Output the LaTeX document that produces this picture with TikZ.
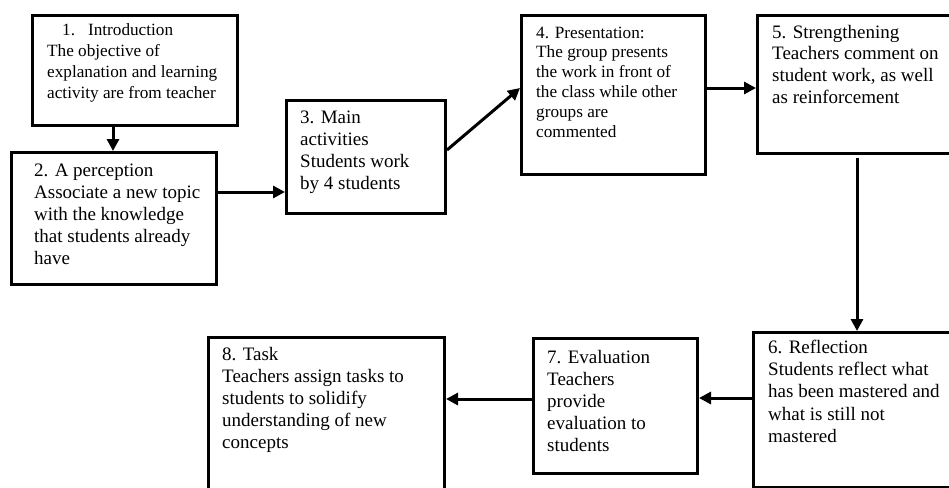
\documentclass[tikz,border=0pt]{standalone}
\usepackage{fontspec}
\setmainfont{Liberation Serif}
\usetikzlibrary{arrows.meta}
\begin{document}
\begin{tikzpicture}[x=1pt,y=-1pt,
  box/.style={draw=black, line width=3pt, rectangle, inner sep=0pt, anchor=north west},
  txt/.style={inner sep=0pt, anchor=base west, align=left},
  arr/.style={line width=3pt, -{Triangle[length=12pt,width=12pt]}}]
\useasboundingbox (0,0) rectangle (949,487);
\clip (0,0) rectangle (949,487);
\fill[white] (0,0) rectangle (949,487);
% boxes
\node[box, minimum width=205pt, minimum height=110pt] (b1) at (31,14) {};
\node[box, minimum width=205pt, minimum height=132pt] (b2) at (10,151) {};
\node[box, minimum width=159pt, minimum height=113pt] (b3) at (285,99) {};
\node[box, minimum width=184pt, minimum height=159pt] (b4) at (520,14) {};
\node[box, minimum width=215pt, minimum height=138pt] (b5) at (756,14) {};
\node[box, minimum width=215pt, minimum height=155pt] (b6) at (752,331) {};
\node[box, minimum width=164pt, minimum height=135pt] (b7) at (532,337) {};
\node[box, minimum width=236pt, minimum height=170pt] (b8) at (207,336) {};
% texts
\node[txt] (t1) at (47,36) {\parbox[t]{190pt}{\fontsize{17.2}{20.7}\selectfont\raggedright
  \hspace*{15pt}1.\hspace{13pt}Introduction\\The objective of\\explanation and learning\\activity are from teacher}};
\node[txt] (t2) at (34,176) {\parbox[t]{180pt}{\fontsize{19}{22}\selectfont\raggedright
  2. A perception\\Associate a new topic\\with the knowledge\\that students already\\have}};
\node[txt] (t3) at (300,123) {\parbox[t]{140pt}{\fontsize{19}{22.3}\selectfont\raggedright
  3. Main\\activities\\Students work\\by 4 students}};
\node[txt] (t4) at (536,38) {\parbox[t]{165pt}{\fontsize{17.2}{19.8}\selectfont\raggedright
  4. Presentation:\\The group presents\\the work in front of\\the class while other\\groups are\\commented}};
\node[txt] (t5) at (772,38) {\parbox[t]{180pt}{\fontsize{19}{21.7}\selectfont\raggedright
  5. Strengthening\\Teachers comment on\\student work, as well\\as reinforcement}};
\node[txt] (t6) at (768,353) {\parbox[t]{180pt}{\fontsize{19}{22.4}\selectfont\raggedright
  6. Reflection\\Students reflect what\\has been mastered and\\what is still not\\mastered}};
\node[txt] (t7) at (547,363) {\parbox[t]{145pt}{\fontsize{19}{22}\selectfont\raggedright
  7. Evaluation\\Teachers\\provide\\evaluation to\\students}};
\node[txt] (t8) at (222,360) {\parbox[t]{215pt}{\fontsize{19}{22}\selectfont\raggedright
  8. Task\\Teachers assign tasks to\\students to solidify\\understanding of new\\concepts}};
% connector helpers
\coordinate (a12) at (113,0);
\coordinate (a23) at (0,192);
\coordinate (s34) at (0,150);
\coordinate (e34) at (0,88);
\coordinate (a45) at (0,88);
\coordinate (s56) at (857,158);
\coordinate (a67) at (0,398);
\coordinate (a78) at (0,399);
% connectors
\draw[arr] (b1.south -| a12) -- (b2.north -| a12);
\draw[arr] (b2.east |- a23) -- (b3.west |- a23);
\draw[arr] (b3.east |- s34) -- (b4.west |- e34);
\draw[arr] (b4.east |- a45) -- (b5.west |- a45);
\draw[arr] (s56) -- (s56 |- b6.north);
\draw[arr] (b6.west |- a67) -- (b7.east |- a67);
\draw[arr] (b7.west |- a78) -- (b8.east |- a78);
\end{tikzpicture}
\end{document}
